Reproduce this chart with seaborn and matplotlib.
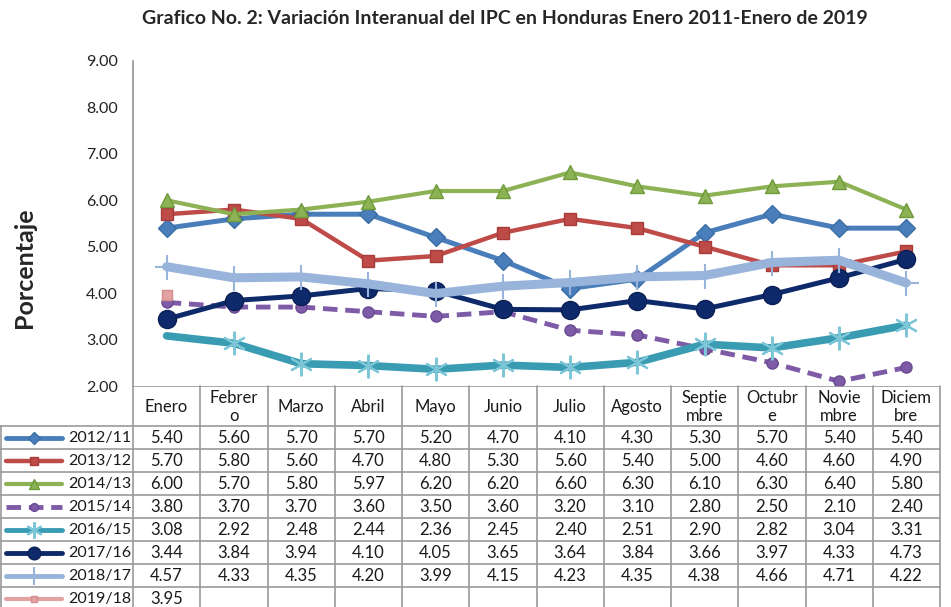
import numpy as np
import pandas as pd
import matplotlib
matplotlib.use("Agg")
import matplotlib.pyplot as plt
import seaborn as sns

months = ["Enero", "Febrero", "Marzo", "Abril", "Mayo", "Junio", "Julio",
          "Agosto", "Septiembre", "Octubre", "Noviembre", "Diciembre"]
month_headers = ["Enero", "Febrer\no", "Marzo", "Abril", "Mayo", "Junio", "Julio",
                 "Agosto", "Septie\nmbre", "Octubr\ne", "Novie\nmbre", "Diciem\nbre"]
series_names = ["2012/11", "2013/12", "2014/13", "2015/14", "2016/15",
                "2017/16", "2018/17", "2019/18"]
s2012_11 = [5.40, 5.60, 5.70, 5.70, 5.20, 4.70, 4.10, 4.30, 5.30, 5.70, 5.40, 5.40]
s2013_12 = [5.70, 5.80, 5.60, 4.70, 4.80, 5.30, 5.60, 5.40, 5.00, 4.60, 4.60, 4.90]
s2014_13 = [6.00, 5.70, 5.80, 5.97, 6.20, 6.20, 6.60, 6.30, 6.10, 6.30, 6.40, 5.80]
s2015_14 = [3.80, 3.70, 3.70, 3.60, 3.50, 3.60, 3.20, 3.10, 2.80, 2.50, 2.10, 2.40]
s2016_15 = [3.08, 2.92, 2.48, 2.44, 2.36, 2.45, 2.40, 2.51, 2.90, 2.82, 3.04, 3.31]
s2017_16 = [3.44, 3.84, 3.94, 4.10, 4.05, 3.65, 3.64, 3.84, 3.66, 3.97, 4.33, 4.73]
s2018_17 = [4.57, 4.33, 4.35, 4.20, 3.99, 4.15, 4.23, 4.35, 4.38, 4.66, 4.71, 4.22]
s2019_18 = [3.95]
all_series = [s2012_11, s2013_12, s2014_13, s2015_14, s2016_15, s2017_16, s2018_17, s2019_18]
yticks = [2.0, 3.0, 4.0, 5.0, 6.0, 7.0, 8.0, 9.0]

styles = [
    dict(color="#4A7EBB", marker="D", lw=3.6, ms=9, ls="-", mec="#3A6EA5", mew=1),
    dict(color="#BE4B48", marker="s", lw=3.2, ms=9, ls="-", mec="#A83C3A", mew=1),
    dict(color="#8DB255", marker="^", lw=3.0, ms=10, ls="-", mec="#6E9A3A", mew=1),
    dict(color="#7D5BA6", marker="o", lw=3.5, ms=8, ls=(0, (3, 1.6)), mec="#6A4A93", mew=1),
    dict(color="#3A9CB2", marker=(6, 2, 0), lw=5.5, ms=17, ls="-", mec="#7CC6D8", mew=1.5),
    dict(color="#0E2A6B", marker="o", lw=3.6, ms=13, ls="-", mec="#0A1F55", mew=1),
    dict(color="#98B4DA", marker="+", lw=6.5, ms=18, ls="-", mec="#98B4DA", mew=1.5),
    dict(color="#E3A3A2", marker="s", lw=3.0, ms=7, ls="-", mec="#D38C8B", mew=1),
]

sns.set_theme(style="white")
plt.rcParams["font.family"] = ["Lato", "DejaVu Sans"]

W, H = 951, 607
fig = plt.figure(figsize=(W / 100, H / 100), dpi=100)

left_px, right_px, top_px, bottom_px = 133, 940, 61, 386
ax = fig.add_axes([left_px / W, 1 - bottom_px / H, (right_px - left_px) / W, (bottom_px - top_px) / H])

for k, (name, vals, st) in enumerate(zip(series_names, all_series, styles)):
    df = pd.DataFrame({"Mes": months[:len(vals)], "Valor": vals})
    extra = {}
    if name == "2016/15":
        extra["markevery"] = list(range(1, len(vals)))
    sns.lineplot(data=df, x="Mes", y="Valor", ax=ax, sort=False,
                 color=st["color"], linewidth=st["lw"], linestyle=st["ls"],
                 marker=st["marker"], markersize=st["ms"],
                 markeredgecolor=st["mec"], markeredgewidth=st["mew"],
                 markerfacecolor=st["color"], **extra)

ax.set_xlim(-0.5, 11.5)
ax.set_ylim(2, 9)
ax.set_yticks(yticks)
ax.set_yticklabels([f"{v:.2f}" for v in yticks], fontsize=11.5, color="#222222")
ax.set_xticks([])
ax.set_xlabel("")
ax.set_ylabel("")
for s in ["top", "right", "bottom"]:
    ax.spines[s].set_visible(False)
ax.spines["left"].set_color("#999999")
ax.tick_params(axis="y", length=0, pad=11)

fig.text(24 / W, 1 - 268 / H, "Porcentaje", rotation=90, fontsize=18,
         fontweight="bold", ha="center", va="center")
fig.text(505 / W, 1 - 18 / H,
         "Grafico No. 2: Variación Interanual del IPC en Honduras Enero 2011-Enero de 2019",
         fontsize=14, fontweight="bold", ha="center", va="center")

# Data table
colw = (right_px - left_px) / 12.0
x0 = -0.5 - left_px / colw
tax = fig.add_axes([0, 0, right_px / W, (H - bottom_px) / H])
tax.set_xlim(x0, 11.5)
tax.set_ylim(H, bottom_px)
tax.axis("off")
grid_c = "#9A9A9A"
txt_c = "#1A1A1A"
hdr_bot = 426
rowh = 23
nrows = len(series_names)
bottom = hdr_bot + rowh * nrows
for i in range(13):
    xb = -0.5 + i
    tax.plot([xb, xb], [bottom_px, bottom + 5], color=grid_c, lw=1.2, clip_on=False)
tax.plot([x0 + 0.02, x0 + 0.02], [hdr_bot, bottom + 5], color=grid_c, lw=1.2, clip_on=False)
tax.plot([-0.5, 11.5], [bottom_px, bottom_px], color=grid_c, lw=1.2)
for r in range(nrows + 1):
    yy = hdr_bot + rowh * r
    tax.plot([x0, 11.5], [yy, yy], color=grid_c, lw=1.2, clip_on=False)
for i, lab in enumerate(month_headers):
    tax.text(i, (bottom_px + hdr_bot) / 2 + 1, lab, ha="center", va="center",
             fontsize=12, linespacing=1.2, color=txt_c)
for r, (name, vals, st) in enumerate(zip(series_names, all_series, styles)):
    yc = hdr_bot + rowh * r + rowh / 2 + 1
    for i, v in enumerate(vals):
        tax.text(i, yc, f"{v:.2f}", ha="center", va="center", fontsize=12, color=txt_c)
    tax.text(x0 + 131 / colw, yc, name, ha="right", va="center", fontsize=11.5, color=txt_c)
    lx0, lx1 = x0 + 6 / colw, x0 + 62 / colw
    tax.plot([lx0, lx1], [yc, yc], color=st["color"], lw=min(st["lw"], 3.5),
             ls=st["ls"], solid_capstyle="round")
    tax.plot([(lx0 + lx1) / 2], [yc], marker=st["marker"], ms=st["ms"] * 0.7,
             color=st["color"], mec=st["mec"], mew=st["mew"], ls="none")

fig.savefig("out.png", dpi=100)
